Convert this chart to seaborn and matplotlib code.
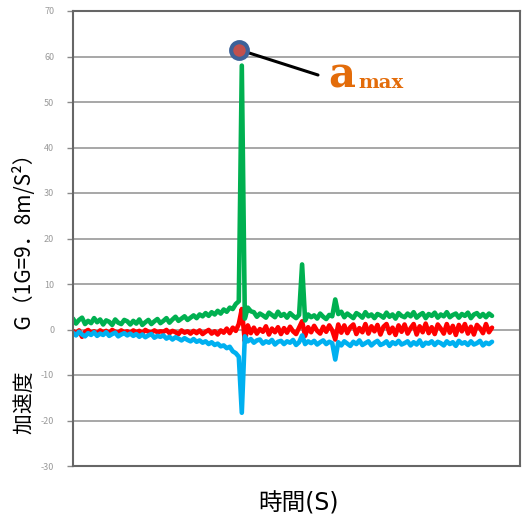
import matplotlib
matplotlib.use("Agg")
import matplotlib.pyplot as plt
import numpy as np
import pandas as pd
import seaborn as sns

# ---- data (acceleration in G) ----
green = [2.4, 1.3, 2.1, 2.6, 1.2, 1.9, 1.4, 2.5, 1.6, 2.2,
         1.1, 2.0, 1.7, 1.0, 2.2, 1.5, 1.2, 2.1, 1.8, 1.1,
         1.9, 1.3, 2.2, 1.0, 1.6, 2.1, 1.2, 1.8, 2.3, 1.4,
         1.9, 2.5, 1.5, 2.2, 2.8, 1.9, 2.4, 2.9, 2.1, 2.6,
         3.1, 2.5, 3.3, 2.9, 3.6, 3.0, 3.8, 3.3, 4.1, 3.5,
         4.4, 3.9, 4.8, 4.5, 5.6, 6.2, 58.0, 2.4, 4.8, 4.0,
         3.8, 2.8, 3.5, 3.1, 2.6, 3.7, 3.2, 2.7, 3.9, 3.0,
         3.4, 2.6, 3.6, 3.0, 2.5, 3.2, 14.3, 2.0, 3.3, 2.7,
         3.1, 2.4, 3.5, 2.8, 2.3, 3.2, 2.9, 6.6, 3.4, 3.9,
         2.7, 3.5, 3.0, 2.5, 3.6, 3.2, 2.6, 3.8, 2.9, 3.3,
         2.5, 3.4, 3.1, 2.6, 3.7, 2.8, 3.3, 2.4, 3.6, 3.0,
         2.7, 3.5, 2.9, 3.8, 2.6, 3.2, 3.6, 2.5, 3.4, 3.0,
         3.7, 2.6, 3.3, 2.9, 3.8, 2.7, 3.2, 3.5, 2.6, 3.4,
         3.0, 3.7, 2.5, 3.3, 3.6, 2.8, 3.4, 2.7, 3.5, 3.0]

red = [-0.3, -0.9, -0.2, -1.6, -0.5, -0.1, -0.7, -0.4, -0.9, -0.2,
       -0.6, -0.3, -0.8, -0.1, -0.5, -0.7, -0.2, -0.6, -0.4, -0.8,
       -0.2, -0.6, -0.3, -0.8, -0.1, -0.5, -0.7, -0.2, -0.6, -0.4,
       -0.5, -0.1, -0.8, -0.3, -0.6, -1.0, -0.2, -0.7, -0.4, -0.9,
       -0.3, -0.8, -0.2, -1.0, -0.5, -0.1, -0.9, -0.4, -1.1, -0.2,
       -0.7, 0.2, -0.8, 0.4, -0.3, 1.2, 4.5, -2.6, 0.9, -0.8,
       0.4, -0.9, 0.1, -0.5, 0.7, -1.1, 0.2, -0.6, 0.5, -1.0,
       0.3, -0.7, 0.6, -0.4, -1.0, 0.4, 1.8, -1.4, 0.5, -0.6,
       0.8, -0.3, -0.9, 0.6, -0.5, 0.9, -0.2, -2.2, 1.1, -0.7,
       0.9, -0.8, 0.5, 1.1, -1.0, 0.3, -0.6, 1.2, -0.9, 0.7,
       -0.4, 1.0, -1.1, 0.6, 1.2, -0.8, 0.4, -1.2, 0.9, -0.5,
       1.1, -0.9, 0.3, 1.2, -1.1, 0.7, -0.6, 1.3, -0.8, 0.5,
       -1.0, 1.1, 0.2, -0.9, 1.2, -0.7, 0.8, -1.2, 1.0, -0.4,
       1.2, -0.9, 0.6, -1.1, 1.0, 0.3, -0.8, 1.2, -0.6, 0.4]

blue = [-0.7, -1.3, -0.5, -1.1, -1.5, -0.8, -1.2, -0.6, -1.4, -0.9,
        -1.2, -0.6, -1.4, -1.0, -0.7, -1.5, -1.1, -0.8, -1.3, -0.9,
        -1.4, -1.0, -1.6, -1.1, -1.7, -1.3, -1.0, -1.8, -1.4, -1.6,
        -1.3, -2.0, -1.6, -2.2, -1.7, -2.0, -2.4, -1.9, -2.3, -2.6,
        -2.1, -2.7, -2.4, -2.9, -2.6, -3.2, -2.8, -3.4, -3.1, -3.7,
        -3.5, -4.1, -3.8, -4.8, -5.2, -6.0, -18.3, -1.5, -2.6, -2.1,
        -2.9, -2.4, -2.2, -3.1, -2.6, -2.9, -2.3, -3.3, -2.7, -2.5,
        -3.2, -2.6, -2.9, -2.3, -3.4, -2.8, -1.3, -3.2, -2.6, -3.0,
        -2.5, -3.3, -2.8, -2.4, -3.2, -2.7, -3.0, -6.6, -2.8, -3.5,
        -2.6, -3.1, -3.6, -2.7, -3.2, -2.4, -3.4, -3.0, -2.6, -3.5,
        -2.9, -2.5, -3.4, -3.1, -2.6, -3.6, -2.8, -3.2, -2.5, -3.3,
        -3.0, -2.6, -3.5, -2.8, -3.3, -2.4, -3.6, -2.9, -3.1, -2.6,
        -3.4, -2.7, -3.0, -3.5, -2.6, -3.2, -2.8, -3.6, -2.5, -3.1,
        -2.8, -3.4, -2.6, -3.3, -3.0, -2.5, -3.5, -2.9, -3.2, -2.7]

n = len(green)
sample = list(range(n))
y_ticks = [-30, -20, -10, 0, 10, 20, 30, 40, 50, 60, 70]
amax_marker = 61.5
series_names = ["X", "Y", "Z"]
colors = {"X": "#ff0000", "Y": "#00b0f0", "Z": "#00b050"}

# ---- style ----
sns.set_style("white")
plt.rcParams['font.family'] = ['Noto Sans CJK JP', 'DejaVu Sans']

W = H = 527
fig = plt.figure(figsize=(W / 100, H / 100), dpi=100)
ax = fig.add_axes([73 / W, 1 - 466 / H, (520 - 73) / W, (466 - 11) / H])

df = pd.DataFrame({
    "t": sample * 3,
    "G": red + blue + green,
    "axis": ["X"] * n + ["Y"] * n + ["Z"] * n,
})
sns.lineplot(data=df, x="t", y="G", hue="axis", hue_order=series_names,
             palette=colors, linewidth=3.3, estimator=None, sort=False,
             legend=False, ax=ax)

ax.set_xlim(0, (520 - 73) / (419 / (n - 1)))
ax.set_ylim(-30, 70)
ax.set_yticks(y_ticks)
ax.set_yticklabels([str(v) for v in y_ticks])
ax.set_xticks([])
ax.set_xlabel("")
ax.set_ylabel("")
ax.yaxis.grid(True, color="#a0a0a0", linewidth=1.3)
ax.set_axisbelow(True)
ax.tick_params(axis="y", length=4.5, width=1, color="#8a8a8a", direction="out",
               labelcolor="#9a9a9a", labelsize=6.5, pad=9, left=True)
for s in ax.spines.values():
    s.set_color("#666666")
    s.set_linewidth(1.5)

# amax annotation
t_peak = sample[int(np.argmax(green))]
ax.annotate("", xy=(t_peak - 1, amax_marker), xycoords="data",
            xytext=(318 / W, 1 - 75 / H), textcoords="figure fraction",
            arrowprops=dict(arrowstyle="-", color="black", lw=2.2,
                            shrinkA=0, shrinkB=0), zorder=5)
ax.plot([t_peak - 1], [amax_marker], marker="o", markersize=12,
        markerfacecolor="#c0504d", markeredgecolor="#3d6299",
        markeredgewidth=3, zorder=6, clip_on=False)
fig.text(328 / W, 1 - 88 / H, "a", fontsize=30, color="#e36c0a",
         family="DejaVu Serif", fontweight="bold", va="baseline", ha="left")
fig.text(358 / W, 1 - 88 / H, "max", fontsize=14, color="#e36c0a",
         family="DejaVu Serif", fontweight="bold", va="baseline", ha="left")

# axis titles
fig.text(25 / W, 1 - 289 / H, "加速度　　G（1G=9．8m/S²）", rotation=90,
         fontsize=15, color="black", ha="center", va="center")
fig.text(298 / W, 1 - 503 / H, "時間(S)", fontsize=17, color="black",
         family=['DejaVu Sans', 'Noto Sans CJK JP'],
         ha="center", va="center")

fig.savefig("out.png", dpi=100)
